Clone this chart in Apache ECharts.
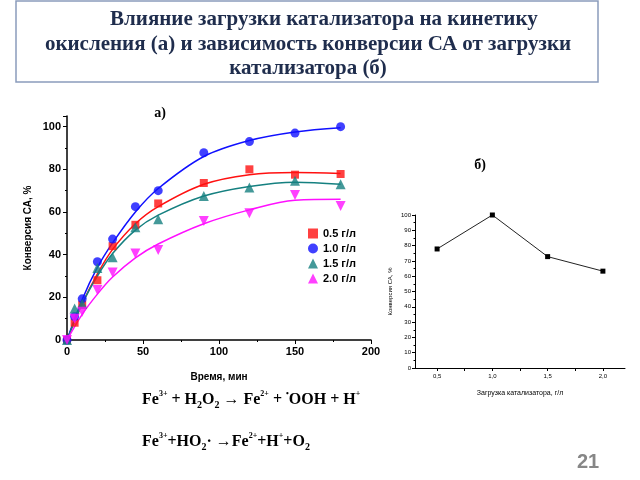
<!DOCTYPE html>
<html lang="ru">
<head>
    <meta charset="UTF-8">
    <title>Влияние загрузки катализатора</title>
    <script src="https://cdn.jsdelivr.net/npm/echarts@6/dist/echarts.min.js"></script>
    <style>
        html, body { margin: 0; padding: 0; background: #fff; }
        #pic { width: 640px; height: 480px; }
    </style>
</head>
<body>
    <div id="pic"></div>
    <script>
        // график (а): время, мин и конверсия СА, %
        const timeMin = [0, 5, 10, 20, 30, 45, 60, 90, 120, 150, 180];
        const conv05 = [0, 8.1, 16.5, 28, 44, 54, 64, 73.6, 80, 77.5, 77.8];
        const conv10 = [0, 11, 19.3, 36.7, 47.3, 62.5, 70, 87.8, 93, 97, 100];
        const conv15 = [0, 14.8, 17, 33.7, 38.8, 52.8, 56.6, 67.5, 71.5, 74.7, 73];
        const conv20 = [0, 10, 13.3, 23.4, 31.6, 40.6, 42.2, 55.8, 59.4, 68, 62.8];

        // сглаженные кривые
        const fitTime = [0, 10, 20, 30, 45, 60, 90, 120, 150, 180];
        const fit05 = [0, 17, 31, 42.5, 54.5, 62.5, 73, 77.5, 78.5, 78];
        const fit10 = [0, 19, 34, 45.5, 60, 71, 86, 93.5, 97.5, 99.5];
        const fit15 = [0, 17, 30, 40.5, 51.5, 58.5, 67.5, 72, 74, 73];
        const fit20 = [0, 12, 21.5, 29.5, 38.5, 45, 54.5, 61, 65.5, 66];

        const seriesNames = ['0.5 г/л', '1.0 г/л', '1.5 г/л', '2.0 г/л'];
        const seriesColors = ['#ff1010', '#1010ff', '#158080', '#ff10ff'];

        // график (б): загрузка катализатора, г/л
        const loadGL = [0.5, 1.0, 1.5, 2.0];
        const convByLoad = [77.8, 100, 72.8, 63.3];

        const pair = (xs, ys) => xs.map((x, i) => [x, ys[i]]);
        const comma = v => v.toFixed(1).replace('.', ',');

        var myChart = echarts.init(document.getElementById('pic'));

        const axisFont = { fontFamily: 'Liberation Sans', fontWeight: 'bold', color: '#000' };
        const titleFont = 'bold 21px "Liberation Serif"';
        const formulaRich = {
            sup: { fontSize: 8, fontWeight: 'bold', fontFamily: 'Liberation Serif', verticalAlign: 'top', lineHeight: 20 },
            sub: { fontSize: 10, fontWeight: 'bold', fontFamily: 'Liberation Serif', verticalAlign: 'bottom', lineHeight: 14 }
        };

        var option = {
            animation: false,
            backgroundColor: '#fff',
            grid: [
                { left: 67, top: 116, width: 304, height: 224 },
                { left: 415, top: 215, width: 210, height: 153 }
            ],
            legend: {
                data: seriesNames,
                orient: 'vertical',
                left: 303,
                top: 223,
                itemWidth: 10,
                itemHeight: 10,
                itemGap: 4,
                textStyle: { fontFamily: 'Liberation Sans', fontWeight: 'bold', fontSize: 11, color: '#000' }
            },
            xAxis: [{
                gridIndex: 0, type: 'value', min: 0, max: 200, interval: 50,
                name: 'Время, мин', nameLocation: 'middle', nameGap: 32,
                nameTextStyle: Object.assign({ fontSize: 10 }, axisFont),
                axisLine: { lineStyle: { color: '#000', width: 1.5 } },
                axisTick: { inside: false, length: 4, lineStyle: { color: '#000' } },
                minorTick: { show: true, splitNumber: 2, length: 2, lineStyle: { color: '#000' } },
                axisLabel: Object.assign({ fontSize: 11, margin: 6 }, axisFont),
                splitLine: { show: false }
            }, {
                gridIndex: 1, type: 'value', min: 0.3, max: 2.2,
                name: 'Загрузка катализатора, г/л', nameLocation: 'middle', nameGap: 22,
                nameTextStyle: { fontFamily: 'Liberation Sans', fontSize: 7, color: '#000' },
                axisLine: { lineStyle: { color: '#000', width: 1 } },
                axisTick: { length: 3, customValues: [0.5, 0.75, 1.0, 1.25, 1.5, 1.75, 2.0], lineStyle: { color: '#000' } },
                axisLabel: { customValues: loadGL, formatter: comma, fontFamily: 'Liberation Sans', fontSize: 6, color: '#000', margin: 5 },
                splitLine: { show: false }
            }],
            yAxis: [{
                gridIndex: 0, type: 'value', min: 0, max: 105, interval: 20,
                name: 'Конверсия СА, %', nameLocation: 'middle', nameGap: 34, nameRotate: 90,
                nameTextStyle: Object.assign({ fontSize: 10 }, axisFont),
                axisLine: { show: true, lineStyle: { color: '#000', width: 1.5 } },
                axisTick: { show: true, length: 4, lineStyle: { color: '#000' } },
                minorTick: { show: true, splitNumber: 2, length: 2, lineStyle: { color: '#000' } },
                axisLabel: Object.assign({ fontSize: 11, margin: 6, showMaxLabel: false }, axisFont),
                splitLine: { show: false }
            }, {
                gridIndex: 1, type: 'value', min: 0, max: 100, interval: 10,
                name: 'Конверсия СА, %', nameLocation: 'middle', nameGap: 22, nameRotate: 90,
                nameTextStyle: { fontFamily: 'Liberation Sans', fontSize: 6, color: '#000' },
                axisLine: { show: true, lineStyle: { color: '#000', width: 1 } },
                axisTick: { show: true, length: 3, lineStyle: { color: '#000' } },
                minorTick: { show: true, splitNumber: 2, length: 1.5, lineStyle: { color: '#000' } },
                axisLabel: { fontFamily: 'Liberation Sans', fontSize: 6, color: '#000', margin: 4 },
                splitLine: { show: false }
            }],
            series: [
                // сглаженные кривые
                ...[fit05, fit10, fit15, fit20].map((ys, i) => ({
                    type: 'line', xAxisIndex: 0, yAxisIndex: 0, smooth: 0.35,
                    showSymbol: false, data: pair(fitTime, ys),
                    lineStyle: { color: seriesColors[i], width: 1.5 }, z: 2
                })),
                // экспериментальные точки
                {
                    name: seriesNames[0], type: 'scatter', xAxisIndex: 0, yAxisIndex: 0,
                    symbol: 'rect', symbolSize: 8, data: pair(timeMin, conv05),
                    itemStyle: { color: seriesColors[0] }, z: 3
                },
                {
                    name: seriesNames[1], type: 'scatter', xAxisIndex: 0, yAxisIndex: 0,
                    symbol: 'circle', symbolSize: 9, data: pair(timeMin, conv10),
                    itemStyle: { color: seriesColors[1] }, z: 3
                },
                {
                    name: seriesNames[2], type: 'scatter', xAxisIndex: 0, yAxisIndex: 0,
                    symbol: 'triangle', symbolSize: 10, data: pair(timeMin, conv15),
                    itemStyle: { color: seriesColors[2] }, z: 3
                },
                {
                    name: seriesNames[3], type: 'scatter', xAxisIndex: 0, yAxisIndex: 0,
                    symbol: 'triangle', symbolRotate: 180, symbolSize: 10, data: pair(timeMin, conv20),
                    itemStyle: { color: seriesColors[3] }, z: 3
                },
                // график (б)
                {
                    type: 'line', xAxisIndex: 1, yAxisIndex: 1,
                    symbol: 'rect', symbolSize: 5, data: pair(loadGL, convByLoad),
                    lineStyle: { color: '#222', width: 1 }, itemStyle: { color: '#000' }
                }
            ],
            graphic: [
                {
                    type: 'rect', shape: { x: 16, y: 1, width: 582, height: 81 },
                    style: { fill: '#fff', stroke: '#8a9cbc', lineWidth: 1.5 }, z: -1
                },
                {
                    type: 'text', x: 110, y: 20,
                    style: { text: 'Влияние загрузки катализатора на кинетику', fill: '#1f2d4d', font: titleFont, textAlign: 'left', textVerticalAlign: 'middle' }
                },
                {
                    type: 'text', x: 308, y: 45,
                    style: { text: 'окисления (а) и зависимость конверсии СА от загрузки', fill: '#1f2d4d', font: titleFont, textAlign: 'center', textVerticalAlign: 'middle' }
                },
                {
                    type: 'text', x: 308, y: 69,
                    style: { text: 'катализатора (б)', fill: '#1f2d4d', font: titleFont, textAlign: 'center', textVerticalAlign: 'middle' }
                },
                {
                    type: 'text', x: 160, y: 113,
                    style: { text: 'а)', fill: '#000', font: 'bold 14px "Liberation Serif"', textAlign: 'center', textVerticalAlign: 'middle' }
                },
                {
                    type: 'text', x: 480, y: 165,
                    style: { text: 'б)', fill: '#000', font: 'bold 14px "Liberation Serif"', textAlign: 'center', textVerticalAlign: 'middle' }
                },
                {
                    type: 'text', x: 142, y: 390,
                    style: {
                        text: 'Fe{sup|3+} + H{sub|2}O{sub|2} → Fe{sup|2+} + {sup|•}OOH + H{sup|+}',
                        font: 'bold 16px "Liberation Serif"', fill: '#000', lineHeight: 20,
                        rich: formulaRich
                    }
                },
                {
                    type: 'text', x: 142, y: 432,
                    style: {
                        text: 'Fe{sup|3+}+HO{sub|2}· →Fe{sup|2+}+H{sup|+}+O{sub|2}',
                        font: 'bold 16px "Liberation Serif"', fill: '#000', lineHeight: 20,
                        rich: formulaRich
                    }
                },
                {
                    type: 'text', x: 588, y: 462,
                    style: { text: '21', fill: '#878787', font: 'bold 20px "Liberation Sans"', textAlign: 'center', textVerticalAlign: 'middle' }
                }
            ]
        };

        myChart.setOption(option);
    </script>
</body>
</html>
